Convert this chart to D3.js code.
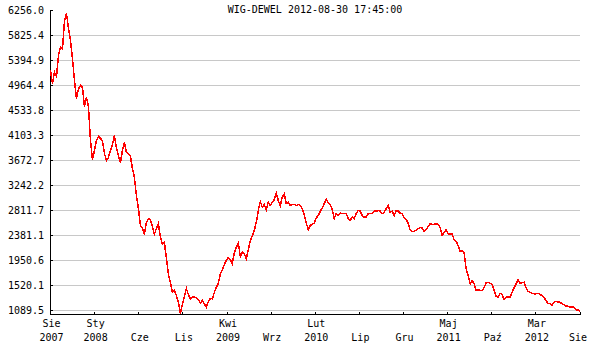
<!DOCTYPE html>
<html><head><meta charset="utf-8">
<script src="https://cdn.jsdelivr.net/npm/d3@7/dist/d3.min.js"></script>
<style>
body{margin:0;background:#fff}
text{font-family:"DejaVu Sans Mono","Liberation Mono",monospace;font-size:10px;fill:#000}
</style>
</head><body>
<svg id="chart" width="600" height="350"></svg>
<script>
const title = "WIG-DEWEL 2012-08-30 17:45:00";
const yTickValues = [1089.5,1520.1,1950.6,2381.1,2811.7,3242.2,3672.7,4103.3,4533.8,4964.4,5394.9,5825.4,6256.0];
const monthTicks = [0,5,10,15,20,25,30,35,40,45,50,55,60];
const monthLabels = ["Sie","Sty","Cze","Lis","Kwi","Wrz","Lut","Lip","Gru","Maj","Paź","Mar","Sie"];
const yearLabels = ["2007","2008","","","2009","","2010","","","2011","","2012",""];
// WIG-DEWEL index, Aug 2007 – Aug 2012 (roughly weekly readings)
const values = [
5223,4994,5194,5119,5481,5624,5596,6084,6204,5946,5739,5429,5051,4741,4908,4964,4930,4603,4758,4603,
4017,3690,3845,4017,4086,4052,4017,3793,3673,3725,3845,3949,4104,3880,3759,3639,3845,3983,3811,3793,
3742,3535,3380,3070,2846,2554,2502,2399,2605,2666,2657,2536,2405,2502,2588,2352,2227,2261,1985,1710,
1572,1400,1434,1348,1228,1038,1193,1331,1469,1365,1291,1319,1322,1305,1279,1219,1262,1205,1147,1245,
1297,1291,1400,1491,1555,1722,1787,1882,1951,2003,1968,1899,2089,2175,2252,2020,2094,2066,1985,2140,
2295,2373,2468,2611,2812,2967,2864,2915,2829,2955,2898,2950,3001,3110,2984,2898,3041,3100,2933,2955,
2898,2915,2915,2898,2915,2898,2846,2743,2595,2485,2554,2571,2597,2685,2726,2795,2855,2933,3001,2941,
2915,2829,2674,2760,2726,2769,2760,2756,2756,2674,2640,2700,2674,2756,2812,2800,2726,2697,2697,2756,
2756,2756,2800,2800,2812,2800,2756,2783,2841,2898,2783,2800,2726,2812,2800,2766,2760,2685,2657,2588,
2476,2450,2450,2476,2497,2519,2511,2450,2485,2536,2588,2571,2571,2588,2571,2519,2381,2438,2480,2411,
2411,2411,2307,2283,2209,2106,2114,2094,1808,1693,1550,1607,1550,1434,1446,1434,1434,1481,1567,1577,
1560,1538,1434,1331,1319,1388,1365,1274,1319,1319,1319,1405,1481,1550,1619,1560,1567,1577,1481,1422,
1405,1388,1377,1377,1388,1365,1348,1309,1262,1205,1216,1176,1233,1250,1233,1233,1205,1193,1164,1164,
1147,1147,1147,1102,1102,1078
];

const svg = d3.select("#chart");
const x = d3.scaleLinear().domain([0, 60]).range([50.5, 580]);
const y = d3.scaleLinear().domain([yTickValues[0], yTickValues[yTickValues.length-1]]).range([310.5, 10.5]);
const n = values.length;
const data = values.map((v, i) => ({m: i * 60 / (n - 1), v}));

// gridlines
svg.append("g").selectAll("line").data(yTickValues.slice(0, -1)).join("line")
  .attr("x1", 51).attr("x2", 580)
  .attr("y1", d => y(d)).attr("y2", d => y(d))
  .attr("stroke", "#c8c8c8").attr("stroke-width", 1).attr("shape-rendering", "crispEdges");

// y tick labels
svg.append("g").selectAll("text").data(yTickValues).join("text")
  .attr("x", 44).attr("y", d => y(d) + 3.5)
  .attr("text-anchor", "end")
  .text(d => d.toFixed(1));

// y small ticks
svg.append("g").selectAll("line").data(yTickValues).join("line")
  .attr("x1", 50.5).attr("x2", 53)
  .attr("y1", d => y(d)).attr("y2", d => y(d))
  .attr("stroke", "#000").attr("shape-rendering", "crispEdges");

// axes lines
svg.append("line").attr("x1", 50.5).attr("x2", 50.5).attr("y1", 10).attr("y2", 315)
  .attr("stroke", "#000").attr("shape-rendering", "crispEdges");
svg.append("line").attr("x1", 50.5).attr("x2", x(60)).attr("y1", 314.5).attr("y2", 314.5)
  .attr("stroke", "#000").attr("shape-rendering", "crispEdges");

// x ticks
svg.append("g").selectAll("line").data(monthTicks).join("line")
  .attr("x1", d => Math.round(x(d) - 0.5) + 0.5).attr("x2", d => Math.round(x(d) - 0.5) + 0.5)
  .attr("y1", 311.5).attr("y2", 314.5)
  .attr("stroke", "#000").attr("shape-rendering", "crispEdges");

// x labels
const xl = svg.append("g");
monthTicks.forEach((m, i) => {
  const cx = Math.min(x(m) + 1, 578);
  if (yearLabels[i]) {
    xl.append("text").attr("x", cx).attr("y", 327).attr("text-anchor", "middle").text(monthLabels[i]);
    xl.append("text").attr("x", cx).attr("y", 341).attr("text-anchor", "middle").text(yearLabels[i]);
  } else {
    xl.append("text").attr("x", cx).attr("y", 341).attr("text-anchor", "middle").text(monthLabels[i]);
  }
});

// title
svg.append("text").attr("x", 315).attr("y", 13).attr("text-anchor", "middle").text(title);

// line
svg.append("path").datum(data)
  .attr("d", d3.line().x(d => x(d.m)).y(d => y(d.v)))
  .attr("fill", "none").attr("stroke", "#ff0000").attr("stroke-width", 1.5)
  .attr("shape-rendering", "crispEdges");
</script>
</body></html>
